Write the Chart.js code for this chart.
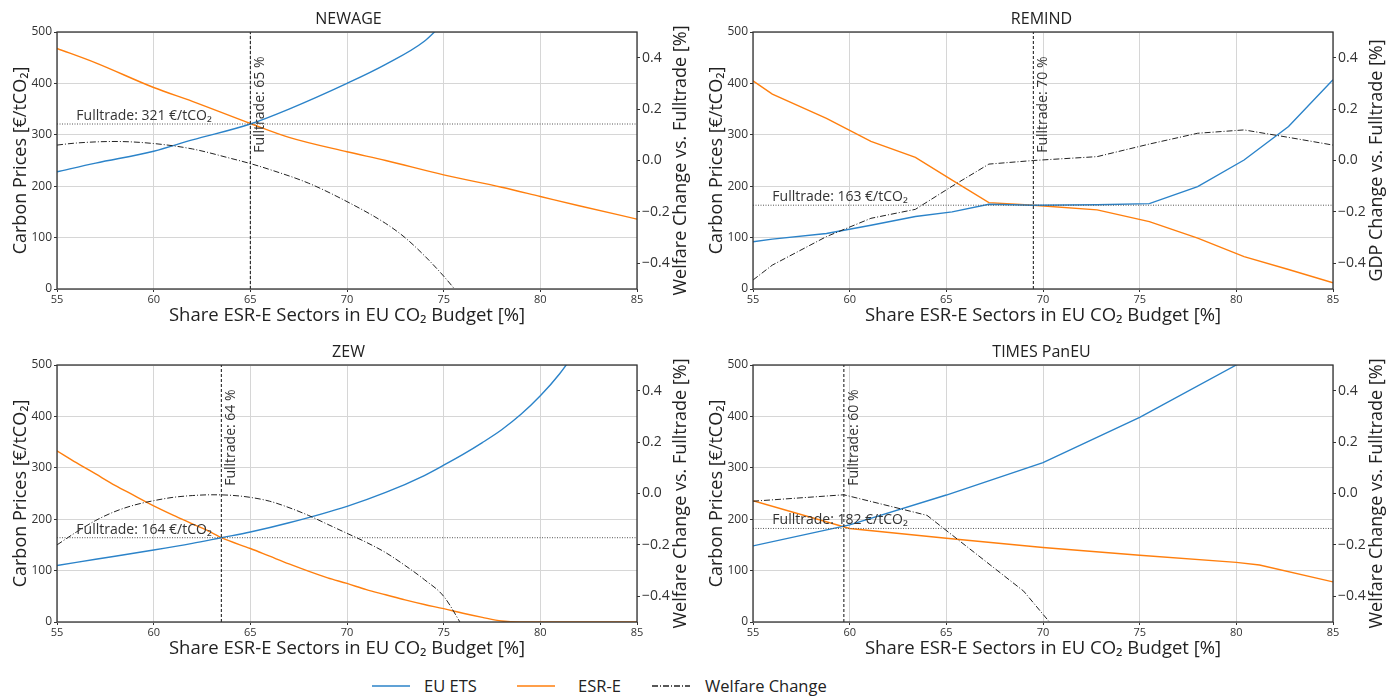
<!DOCTYPE html>
<html>
<head>
<meta charset="utf-8">
<script src="https://cdn.jsdelivr.net/npm/chart.js@4.4.1/dist/chart.umd.min.js"></script>
<style>
  body { margin: 0; background: #fff; width: 1387px; height: 697px; overflow: hidden; font-family: 'Open Sans', sans-serif; color: #222; }
  .panel { position: absolute; }
  #legend { position: absolute; left: 0; top: 675px; width: 1387px; height: 22px; font-size: 16.5px; line-height: 22px; }
  #legend svg, #legend span { position: absolute; top: 0; }
  #legend svg { top: 6px; }
</style>
</head>
<body>
<div class="panel" style="left:0;top:0"><canvas id="p0" width="697" height="330"></canvas></div>
<div class="panel" style="left:696px;top:0"><canvas id="p1" width="691" height="330"></canvas></div>
<div class="panel" style="left:0;top:333px"><canvas id="p2" width="697" height="330"></canvas></div>
<div class="panel" style="left:696px;top:333px"><canvas id="p3" width="691" height="330"></canvas></div>
<div id="legend"></div>

<script>
// ---- data ----
const panelTitles = ['NEWAGE', 'REMIND', 'ZEW', 'TIMES PanEU'];
const rightAxisTitles = [
  'Welfare Change vs. Fulltrade [%]',
  'GDP Change vs. Fulltrade [%]',
  'Welfare Change vs. Fulltrade [%]',
  'Welfare Change vs. Fulltrade [%]'
];
const leftAxisTitle = 'Carbon Prices [€/tCO₂]';
const xAxisTitle = 'Share ESR-E Sectors in EU CO₂ Budget [%]';
const seriesNames = ['EU ETS', 'ESR-E', 'Welfare Change'];

const shareTicks = [55, 60, 65, 70, 75, 80, 85];
const priceTicks = [0, 100, 200, 300, 400, 500];
const welfareTicks = [-0.4, -0.2, 0, 0.2, 0.4];

const fulltradePrice = [321, 163, 164, 182];
const fulltradeShare = [65, 69.5, 63.5, 59.7];
const fulltradeShareLabel = [65, 70, 64, 60];

// NEWAGE
const newageEtsShare = [55, 57, 60, 62, 65, 67, 70, 72, 74, 75];
const newageEts = [228, 245, 268, 290, 321, 350, 400, 437, 482, 518];
const newageEsrShare = [55, 57, 60, 62, 65, 67, 70, 72, 75, 78, 80, 82, 85];
const newageEsr = [468, 440, 392, 365, 322, 295, 267, 250, 222, 198, 180, 162, 136];
const newageWelfareShare = [55, 56, 58, 60, 62, 64, 65, 66, 68, 70, 72, 73, 74, 75, 76];
const newageWelfare = [0.06, 0.068, 0.074, 0.066, 0.045, 0.008, -0.012, -0.035, -0.088, -0.16, -0.245, -0.3, -0.37, -0.45, -0.54];

// REMIND
const remindShare = [55, 56, 58.8, 61.1, 63.4, 65.3, 67.2, 69.5, 72.8, 75.5, 78, 80.4, 82.7, 85];
const remindEts = [92, 97, 108, 124, 141, 150, 165, 163, 164, 166, 199, 251, 316, 407];
const remindEsr = [405, 379, 332, 287, 256, 212, 168, 163, 154, 131, 99, 63, 38, 12];
const remindWelfare = [-0.465, -0.407, -0.296, -0.225, -0.19, -0.10, -0.014, 0.0, 0.015, 0.064, 0.106, 0.119, 0.09, 0.06];

// ZEW
const zewEtsShare = [55, 57, 60, 62, 63.5, 65, 67, 70, 72, 74, 75, 76, 77, 78, 79, 80, 81, 82];
const zewEts = [110, 122, 140, 153, 164, 175, 193, 225, 252, 285, 305, 326, 349, 374, 404, 440, 483, 535];
const zewEsrShare = [55, 56, 57, 58, 59, 60, 61, 62, 63, 63.5, 65, 66, 67, 68, 69, 70, 71, 72, 73, 74, 75, 76, 77, 78, 79, 80, 85];
const zewEsr = [333, 310, 288, 266, 246, 226, 208, 191, 174, 164, 143, 128, 113, 99, 86, 75, 63, 53, 43, 34, 26, 17, 9, 2, 0, 0, 0];
const zewWelfareShare = [55, 56, 57, 58, 59, 60, 61, 62, 63, 64, 65, 66, 67, 68, 69, 70, 71, 72, 73, 74, 75, 76];
const zewWelfare = [-0.20, -0.15, -0.105, -0.07, -0.045, -0.028, -0.015, -0.008, -0.005, -0.007, -0.015, -0.03, -0.055, -0.085, -0.12, -0.155, -0.19, -0.23, -0.28, -0.335, -0.40, -0.52];

// TIMES PanEU
const timesEtsShare = [55, 60, 65, 70, 75, 80, 85];
const timesEts = [148, 189, 247, 310, 398, 500, 615];
const timesEsrShare = [55, 60, 65, 70, 75, 80, 81.2, 85];
const timesEsr = [236, 182, 163, 145, 130, 116, 111, 78];
const timesWelfareShare = [55, 59.7, 64, 69, 71];
const timesWelfare = [-0.03, -0.005, -0.085, -0.38, -0.56];

// ---- styling ----
const FONT = "'Open Sans', sans-serif";
const ETS_COLOR = '#2b83c9';
const ESR_COLOR = '#ff7f0e';
const WELFARE_COLOR = '#222';
const WELFARE_DASH = [6, 2, 1, 2];

Chart.defaults.font.family = FONT;
Chart.defaults.color = '#333';
Chart.defaults.animation = false;

function pts(xs, ys) {
  return xs.map((x, i) => ({ x, y: ys[i] }));
}

function fmtWelfare(v) {
  return (v < -1e-9 ? '−' : '') + Math.abs(v).toFixed(1);
}

// frame, fulltrade labels and right-hand axis title (drawn reading upwards like the original)
const annotate = {
  id: 'annotate',
  afterDatasetsDraw(chart, args, opts) {
    const { ctx, chartArea: a, scales: { x, y } } = chart;
    ctx.save();
    ctx.strokeStyle = '#333';
    ctx.lineWidth = 1.3;
    ctx.strokeRect(a.left, a.top, a.right - a.left, a.bottom - a.top);

    ctx.fillStyle = '#333';
    ctx.font = `14px ${FONT}`;
    ctx.textAlign = 'left';
    ctx.textBaseline = 'alphabetic';
    ctx.fillText(`Fulltrade: ${opts.price} €/tCO₂`, x.getPixelForValue(56), y.getPixelForValue(opts.price) - 4);

    ctx.save();
    ctx.translate(x.getPixelForValue(opts.share) + 3, y.getPixelForValue(265));
    ctx.rotate(-Math.PI / 2);
    ctx.textBaseline = 'top';
    ctx.fillText(`Fulltrade: ${opts.shareLabel} %`, 0, 0);
    ctx.restore();

    ctx.fillStyle = '#222';
    ctx.font = `18px ${FONT}`;
    ctx.translate(a.right + 44, (a.top + a.bottom) / 2);
    ctx.rotate(-Math.PI / 2);
    ctx.textAlign = 'center';
    ctx.textBaseline = 'middle';
    ctx.fillText(opts.rightTitle, 0, 0);
    ctx.restore();
  }
};

function makePanel(i, canvasId, leftW, rightW, smooth, ets, esr, welfare) {
  const interp = smooth ? 'monotone' : 'default';
  const price = fulltradePrice[i];
  const share = fulltradeShare[i];
  new Chart(document.getElementById(canvasId), {
    type: 'line',
    data: {
      datasets: [
        { label: 'fulltrade price', data: pts([55, 85], [price, price]), yAxisID: 'y',
          borderColor: '#555', borderWidth: 1, borderDash: [1, 1.5], pointRadius: 0 },
        { label: 'fulltrade share', data: pts([share, share], [0, 500]), yAxisID: 'y',
          borderColor: '#111', borderWidth: 1, borderDash: [3, 2], pointRadius: 0 },
        { label: seriesNames[2], data: welfare, yAxisID: 'y1',
          borderColor: WELFARE_COLOR, borderWidth: 1, borderDash: WELFARE_DASH, pointRadius: 0, cubicInterpolationMode: interp },
        { label: seriesNames[0], data: ets, yAxisID: 'y',
          borderColor: ETS_COLOR, borderWidth: 1.4, pointRadius: 0, cubicInterpolationMode: interp },
        { label: seriesNames[1], data: esr, yAxisID: 'y',
          borderColor: ESR_COLOR, borderWidth: 1.4, pointRadius: 0, cubicInterpolationMode: interp }
      ]
    },
    options: {
      responsive: false,
      devicePixelRatio: 1,
      layout: { padding: 0 },
      scales: {
        x: {
          type: 'linear', min: 55, max: 85,
          afterBuildTicks: s => { s.ticks = shareTicks.map(v => ({ value: v })); },
          afterFit: s => { s.height = 41; },
          ticks: { font: { size: 11 }, padding: 1, maxRotation: 0, autoSkip: false },
          grid: { color: '#d6d6d6', tickColor: '#333', tickLength: 3 },
          border: { display: false },
          title: { display: true, text: xAxisTitle, color: '#222', font: { size: 18.5 }, padding: { top: 0, bottom: 3 } }
        },
        y: {
          position: 'left', min: 0, max: 500,
          afterBuildTicks: s => { s.ticks = priceTicks.map(v => ({ value: v })); },
          afterFit: s => { s.width = leftW; },
          ticks: { font: { size: 12 }, padding: 2 },
          grid: { color: '#d6d6d6', tickColor: '#333', tickLength: 3 },
          border: { display: false },
          title: { display: true, text: leftAxisTitle, color: '#222', font: { size: 18 }, padding: { top: 10, bottom: 0 } }
        },
        y1: {
          position: 'right', min: -0.5, max: 0.5,
          afterBuildTicks: s => { s.ticks = welfareTicks.map(v => ({ value: v })); },
          afterFit: s => { s.width = rightW; },
          ticks: { font: { size: 14 }, padding: 2, callback: v => fmtWelfare(v) },
          grid: { drawOnChartArea: false, tickColor: '#333', tickLength: 3 },
          border: { display: false }
        }
      },
      plugins: {
        legend: { display: false },
        tooltip: { enabled: false },
        title: { display: true, text: panelTitles[i], color: '#222', font: { size: 16, weight: 'normal' }, padding: { top: 10, bottom: 2.8 } },
        annotate: { price, share, shareLabel: fulltradeShareLabel[i], rightTitle: rightAxisTitles[i] }
      }
    },
    plugins: [annotate]
  });
}

makePanel(0, 'p0', 57, 60, true, pts(newageEtsShare, newageEts), pts(newageEsrShare, newageEsr), pts(newageWelfareShare, newageWelfare));
makePanel(1, 'p1', 57, 54, false, pts(remindShare, remindEts), pts(remindShare, remindEsr), pts(remindShare, remindWelfare));
makePanel(2, 'p2', 57, 60, true, pts(zewEtsShare, zewEts), pts(zewEsrShare, zewEsr), pts(zewWelfareShare, zewWelfare));
makePanel(3, 'p3', 57, 54, false, pts(timesEtsShare, timesEts), pts(timesEsrShare, timesEsr), pts(timesWelfareShare, timesWelfare));

// shared legend, placed where the original has its entries
const legendStyles = [
  { color: ETS_COLOR, dash: '', lineX: 372, textX: 424 },
  { color: ESR_COLOR, dash: '', lineX: 517, textX: 578 },
  { color: WELFARE_COLOR, dash: WELFARE_DASH.join(','), lineX: 652, textX: 705 }
];
const legendEl = document.getElementById('legend');
seriesNames.forEach((name, i) => {
  const st = legendStyles[i];
  legendEl.insertAdjacentHTML('beforeend',
    `<svg width="38" height="10" style="left:${st.lineX}px"><line x1="0" y1="5" x2="38" y2="5" stroke="${st.color}" stroke-width="1.3"${st.dash ? ` stroke-dasharray="${st.dash}"` : ''}/></svg>` +
    `<span style="left:${st.textX}px">${name}</span>`);
});
</script>
</body>
</html>
